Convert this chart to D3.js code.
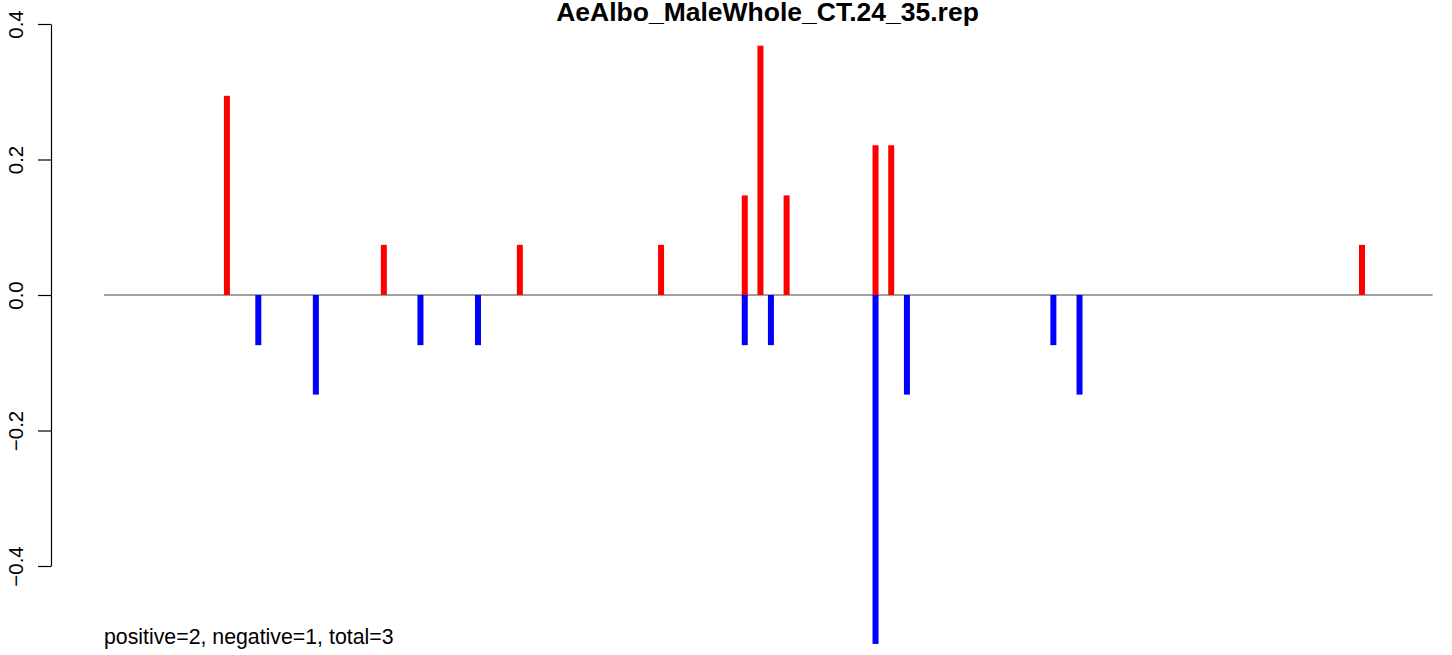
<!DOCTYPE html>
<html>
<head>
<meta charset="utf-8">
<script src="https://cdn.jsdelivr.net/npm/d3@7"></script>
<style>
  html, body { margin: 0; padding: 0; background: #fff; }
  svg { display: block; }
  text { font-family: "Liberation Sans", Arial, Helvetica, sans-serif; }
</style>
</head>
<body>
<svg id="chart" width="1452" height="655"></svg>
<script>
// ---- data ----
const title = "AeAlbo_MaleWhole_CT.24_35.rep";
const footnote = "positive=2, negative=1, total=3";
const seqRange = [0.5, 254.5];
const posPositions = [24, 54, 80, 107, 123, 126, 131, 148, 151, 241];
const posValues    = [0.294, 0.074, 0.074, 0.074, 0.147, 0.368, 0.147, 0.221, 0.221, 0.074];
const negPositions = [30, 41, 61, 72, 123, 128, 148, 154, 182, 187];
const negValues    = [-0.074, -0.147, -0.074, -0.074, -0.074, -0.074, -0.515, -0.147, -0.074, -0.147];
const yTicks = [-0.4, -0.2, 0.0, 0.2, 0.4];

// ---- layout ----
const svg = d3.select("#chart");
const x = d3.scaleLinear().domain(seqRange).range([104, 1432.6]);
const y = d3.scaleLinear().domain([-0.4, 0.4]).range([566, 24]);
const axisX = 51;

// zero line
svg.append("line")
  .attr("x1", x(seqRange[0])).attr("x2", x(seqRange[1]))
  .attr("y1", y(0)).attr("y2", y(0))
  .attr("stroke", "#a0a0a0").attr("stroke-width", 2);

// bars
const barW = 6;
svg.append("g").selectAll("rect").data(posPositions.map((p, i) => ({p, v: posValues[i]})))
  .join("rect")
  .attr("x", d => x(d.p) - barW / 2).attr("width", barW)
  .attr("y", d => y(d.v)).attr("height", d => y(0) - y(d.v))
  .attr("fill", "#ff0000");
svg.append("g").selectAll("rect").data(negPositions.map((p, i) => ({p, v: negValues[i]})))
  .join("rect")
  .attr("x", d => x(d.p) - barW / 2).attr("width", barW)
  .attr("y", y(0)).attr("height", d => y(d.v) - y(0))
  .attr("fill", "#0000ff");

// y axis
const axisG = svg.append("g").attr("transform", `translate(${axisX},0)`)
  .call(d3.axisLeft(y).tickValues(yTicks).tickSize(13).tickSizeOuter(0).tickFormat(d3.format(".1f")));
axisG.select(".domain").attr("stroke", "#000").attr("stroke-width", 1.2);
axisG.selectAll(".tick line").attr("stroke", "#000").attr("stroke-width", 1.2);
axisG.selectAll(".tick text")
  .attr("x", 0).attr("y", 0).attr("dy", null)
  .attr("transform", `translate(${23 - axisX},0) rotate(-90)`)
  .attr("text-anchor", "middle")
  .attr("font-size", 20.5)
  .attr("fill", "#000");

// title
svg.append("text")
  .attr("x", 767.5).attr("y", 21)
  .attr("text-anchor", "middle")
  .attr("font-weight", "bold")
  .attr("font-size", 26.5)
  .text(title);

// footnote
svg.append("text")
  .attr("x", 104).attr("y", 644)
  .attr("font-size", 21.3)
  .text(footnote);
</script>
</body>
</html>
